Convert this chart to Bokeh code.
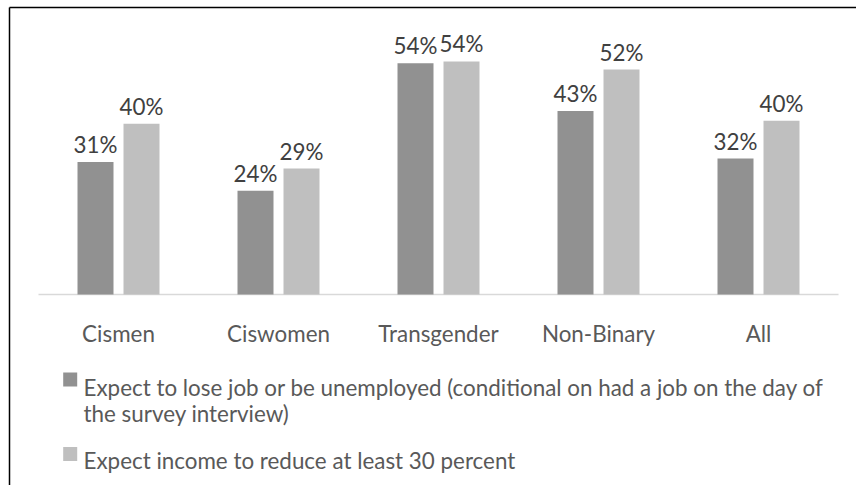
from bokeh.plotting import figure
from bokeh.models import Range1d, ColumnDataSource
from bokeh.core.properties import value
from bokeh.embed import file_html
from bokeh.resources import INLINE

# ---- data ----
categories = ["Cismen", "Ciswomen", "Transgender", "Non-Binary", "All"]
lose_job = [30.8, 24.1, 53.8, 42.7, 31.6]
income_cut = [39.7, 29.3, 54.2, 52.3, 40.4]
series_names = [
    "Expect to lose job or be unemployed (conditional on had a job on the day of",
    "the survey interview)",
    "Expect income to reduce at least 30 percent",
]

# ---- layout constants (pixels) ----
W, H = 856, 485
CAT_PX = 160.0          # pixels per category
LEFT_PX = 38.0          # left edge of first category
BASE_PX = 294.0         # baseline pixel (from top)
PCT_PX = 4.3            # pixels per percent

X0 = -LEFT_PX / CAT_PX
X1 = X0 + W / CAT_PX
Y_TOP = BASE_PX / PCT_PX
Y_BOT = -(H - BASE_PX) / PCT_PX


def dx(px):
    return X0 + px / CAT_PX


def dy(py):
    return (BASE_PX - py) / PCT_PX


FONT = value("Lato")
FS = "22.4px"
DARK = "#919191"
LIGHT = "#bfbfbf"
TXT = "#595959"
LBL = "#404040"

p = figure(width=W, height=H, output_backend="svg", toolbar_location=None,
           x_range=Range1d(X0, X1), y_range=Range1d(Y_BOT, Y_TOP),
           x_axis_type=None, y_axis_type=None, min_border=0,
           outline_line_color=None, background_fill_color="white",
           border_fill_color="white")
p.grid.visible = False

n = len(categories)
centers = [i + 0.5 for i in range(n)]
off = 23.0 / CAT_PX
bw = 36.0 / CAT_PX

src = ColumnDataSource(dict(
    cat=categories,
    x=centers,
    xd=[c - off for c in centers],
    xl=[c + off for c in centers],
    d=lose_job,
    l=income_cut,
    dlab=[f"{round(v):d}%" for v in lose_job],
    llab=[f"{round(v):d}%" for v in income_cut],
    dy_lab=[v + 17.5 / PCT_PX for v in lose_job],
    ly_lab=[v + 17.5 / PCT_PX for v in income_cut],
))

# axis baseline
p.segment(x0=[0], y0=[0], x1=[n], y1=[0], line_color="#d9d9d9", line_width=1.5)

p.vbar(x="xd", top="d", bottom=0, width=bw, source=src, fill_color=DARK, line_color=None)
p.vbar(x="xl", top="l", bottom=0, width=bw, source=src, fill_color=LIGHT, line_color=None)

# data labels
p.text(x="xd", y="dy_lab", text="dlab", source=src, text_font=FONT, text_font_size=FS,
       text_color=LBL, text_align="center", text_baseline="alphabetic")
p.text(x="xl", y="ly_lab", text="llab", source=src, text_font=FONT, text_font_size=FS,
       text_color=LBL, text_align="center", text_baseline="alphabetic")

# category labels
p.text(x="x", y=dy(333), text="cat", source=src, text_font=FONT, text_font_size=FS,
       text_color=TXT, text_align="center", text_baseline="alphabetic")

# legend
p.scatter(x=[dx(69.7), dx(69.7)], y=[dy(379), dy(453.5)], marker="square", size=14,
          fill_color=[DARK, LIGHT], line_color=None)
p.text(x=[dx(83)] * 3, y=[dy(387), dy(413), dy(460)], text=series_names,
       text_font=FONT, text_font_size=FS, text_color=TXT,
       text_align="left", text_baseline="alphabetic")

# chart border (left & top visible)
bx, by = dx(9.0), dy(7.0)
p.segment(x0=[bx, bx], y0=[by, by], x1=[bx, X1 + 1], y1=[Y_BOT - 10, by],
          line_color="black", line_width=1.5)

open("out.html", "w").write(file_html(p, INLINE))
